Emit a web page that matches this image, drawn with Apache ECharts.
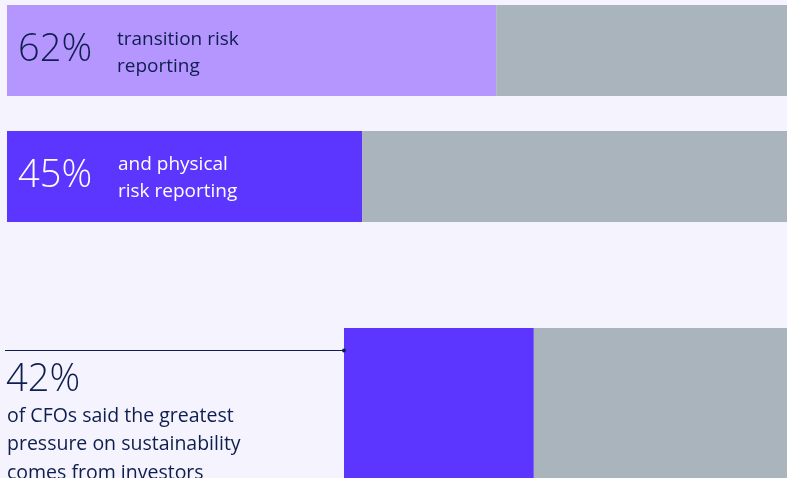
<!DOCTYPE html>
<html><head><meta charset="utf-8">
<script src="https://cdn.jsdelivr.net/npm/echarts@6/dist/echarts.min.js"></script>
<style>html,body{margin:0;padding:0;background:#f5f3fd;overflow:hidden}#c{width:787px;height:478px;}</style>
</head><body><div id="c"></div>
<script>
const categories = ['transition risk reporting', 'physical risk reporting', 'CFOs: pressure from investors'];
const values = [62, 45, 42];
const totals = [100, 100, 100];
const percentLabels = ['62%', '45%', '42%'];
const descriptions = ['transition risk\nreporting', 'and physical\nrisk reporting', 'of CFOs said the greatest\npressure on sustainability\ncomes from investors'];

const barColors = ['#b596ff', '#5c36ff', '#5c36ff'];
const restColor = '#aab4bd';
const navy = '#0e1e4e';
const FONT = '"Open Sans", "Noto Sans", sans-serif';

const gridDefs = [
  { left: 7, width: 789, top: 5, height: 91, outerBoundsMode: 'none' },
  { left: 7, width: 789, top: 131, height: 91, outerBoundsMode: 'none' },
  { left: 344, width: 452, top: 328, height: 200, outerBoundsMode: 'none' }
];

const chart = echarts.init(document.getElementById('c'), null, { renderer: 'canvas' });
const series = [];
values.forEach((v, i) => {
  series.push({
    type: 'bar', xAxisIndex: i, yAxisIndex: i, stack: 's' + i, barWidth: '100%',
    data: [v], itemStyle: { color: barColors[i] }, silent: true,
    label: i < 2 ? {
      show: true, position: 'insideLeft', distance: 11,
      formatter: () => percentLabels[i],
      fontFamily: FONT, fontSize: 38, fontWeight: 300,
      color: i === 0 ? navy : '#ffffff'
    } : { show: false }
  });
  series.push({
    type: 'bar', xAxisIndex: i, yAxisIndex: i, stack: 's' + i, barWidth: '100%',
    data: [totals[i] - v], itemStyle: { color: restColor }, silent: true
  });
});

const descStyle = (i, color) => ({
  text: descriptions[i], fill: color, fontFamily: FONT, fontSize: 19, lineHeight: 27
});

chart.setOption({
  backgroundColor: '#f5f3fd',
  animation: false,
  grid: gridDefs,
  xAxis: gridDefs.map((g, i) => ({ type: 'value', gridIndex: i, min: 0, max: 100, show: false })),
  yAxis: gridDefs.map((g, i) => ({ type: 'category', gridIndex: i, data: [categories[i]], show: false })),
  series: series,
  graphic: [
    { type: 'text', z: 100, left: 117, top: 26, style: descStyle(0, navy) },
    { type: 'text', z: 100, left: 118, top: 151, style: descStyle(1, '#ffffff') },
    { type: 'line', z: 100, shape: { x1: 5, y1: 350.5, x2: 344, y2: 350.5 }, style: { stroke: navy, lineWidth: 1 } },
    { type: 'circle', z: 100, shape: { cx: 344, cy: 350.5, r: 2 }, style: { fill: navy } },
    { type: 'text', z: 100, left: 6, top: 361, style: { text: percentLabels[2], fill: navy, fontFamily: FONT, fontSize: 38, fontWeight: 300 } },
    { type: 'text', z: 100, left: 7, top: 402, style: { text: descriptions[2], fill: navy, fontFamily: FONT, fontSize: 19.5, lineHeight: 28.5 } }
  ]
});
</script></body></html>
